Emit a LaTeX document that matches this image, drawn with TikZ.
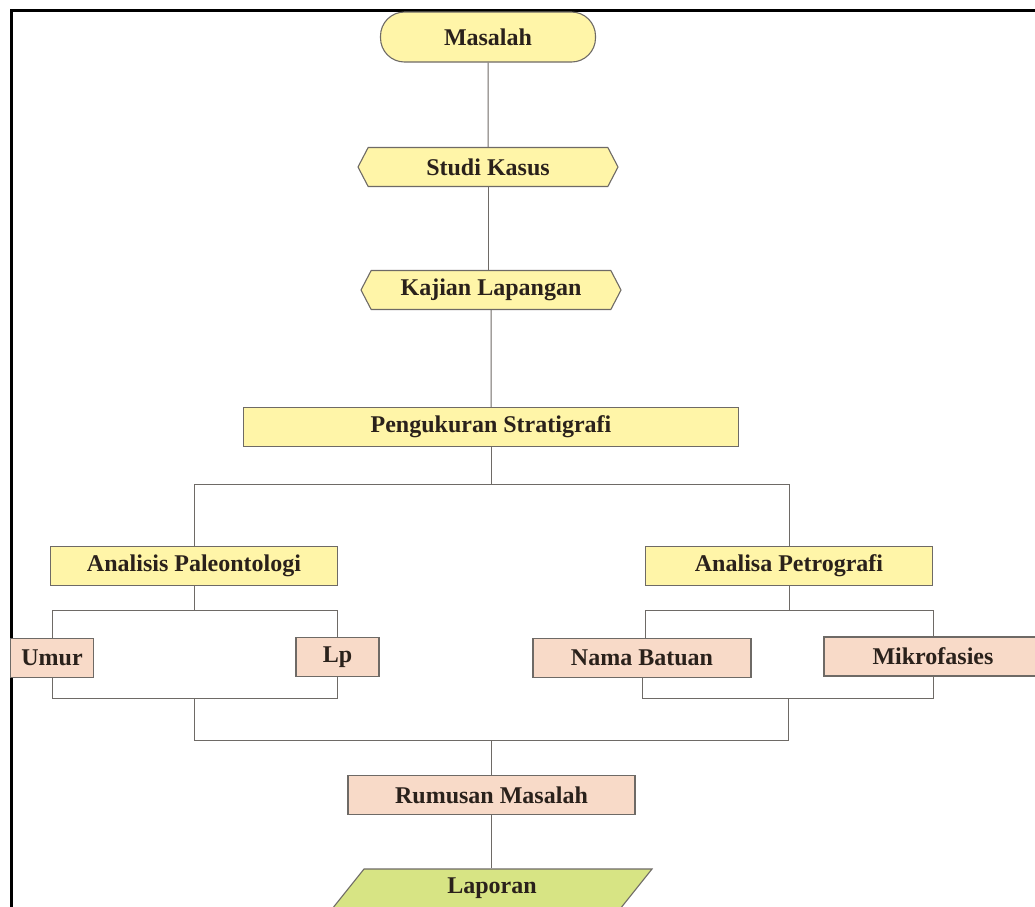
\documentclass[tikz,border=0pt]{standalone}
\usepackage{fontspec}
\setmainfont{Liberation Serif}
\usetikzlibrary{shapes.symbols}
\definecolor{yel}{HTML}{FFF5A8}
\definecolor{pnk}{HTML}{F8DAC8}
\definecolor{grn}{HTML}{D7E484}
\definecolor{bdr}{HTML}{6E6A66}
\definecolor{txt}{HTML}{2A211B}
\tikzset{
  box/.style={draw=bdr, line width=1.1pt, inner sep=0pt, text=txt,
    font=\fontsize{24}{28}\selectfont\bfseries},
  ybox/.style={box, fill=yel, rectangle, minimum height=39pt},
  pbox/.style={box, fill=pnk, rectangle, minimum height=39pt},
  pill/.style={box, fill=yel, rectangle, rounded corners=24pt, minimum width=215pt, minimum height=50pt},
  hexa/.style={box, fill=yel, signal, signal to=west and east, signal pointer angle=125,
    minimum width=260pt, minimum height=39pt},
  conn/.style={draw=bdr, line width=1pt},
}
\begin{document}
\begin{tikzpicture}[x=1pt,y=-1pt]
\useasboundingbox (0,0) rectangle (1035,906);
\clip (0,0) rectangle (1035,906);
% frame
\draw[line width=3pt, black] (11,920) -- (11,10) -- (1045,10);
% nodes
\node[pill] (mas) at (488,37) {Masalah};
\node[hexa] (stu) at (488,167) {Studi Kasus};
\node[hexa] (kaj) at (491,290) {Kajian Lapangan};
\node[ybox, minimum width=495pt] (ps) at (491,427) {Pengukuran Stratigrafi};
\node[ybox, minimum width=287pt] (ap) at (194,566) {Analisis Paleontologi};
\node[ybox, minimum width=287pt] (pe) at (789,566) {Analisa Petrografi};
\node[pbox, minimum width=83pt] (umu) at (52,658) {Umur};
\node[pbox, minimum width=83pt] (lp) at (337.5,657) {\raisebox{1pt}{Lp}};
\node[pbox, minimum width=218pt] (nb) at (642,658) {\raisebox{-1pt}{Nama Batuan}};
\node[pbox, minimum width=218pt] (mik) at (933,656.5) {Mikrofasies};
\node[pbox, minimum width=287pt] (rm) at (491.5,795) {Rumusan Masalah};
\node[box, draw=none, minimum width=260pt, minimum height=40pt] (lap) at (492,889) {};
\fill[grn] (364,869) -- (652,869) -- (620,909) -- (332,909) -- cycle;
\draw[draw=bdr, line width=1.1pt] (332,909) -- (364,869) -- (652,869) -- (620,909);
\node[box, draw=none] at (492,888) {Laporan};
% connector points
\coordinate (b1) at (491,484);
\coordinate (b2) at (194,610);
\coordinate (b3) at (789,610);
\coordinate (j1) at (194,698);
\coordinate (j2) at (788,698);
\coordinate (j3) at (491,740);
% connectors
\draw[conn] (mas) -- (stu);
\draw[conn] (stu.south) -- (stu.south |- kaj.north);
\draw[conn] (kaj) -- (ps);
\draw[conn] (ps) -- (b1);
\draw[conn] (ap.north) |- (b1) -| (pe.north);
\draw[conn] (ap) -- (b2);
\draw[conn] (umu.north) |- (b2) -| (lp.north);
\draw[conn] (pe) -- (b3);
\draw[conn] (nb.north) ++(3,0) |- (b3) -| (mik.north);
\draw[conn] (umu.south) |- (j1) -| (lp.south);
\draw[conn] (nb.south) |- (j2) -| (mik.south);
\draw[conn] (j1) |- (j3);
\draw[conn] (j2) |- (j3);
\draw[conn] (j3) -- (rm.north -| j3);
\draw[conn] (rm.south -| j3) -- (lap.north -| j3);
\end{tikzpicture}
\end{document}
